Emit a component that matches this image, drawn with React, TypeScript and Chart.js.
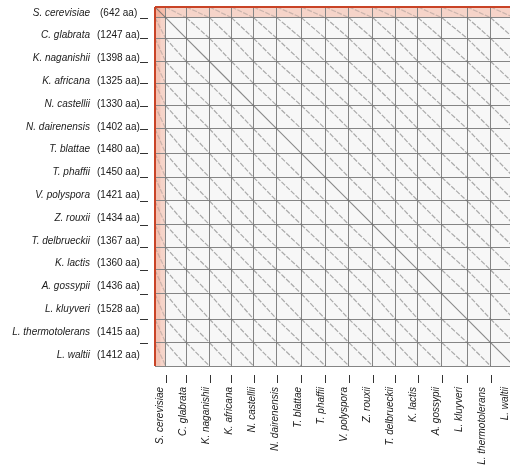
import React, { useEffect, useRef } from "react";
import { Chart, registerables } from "chart.js";

Chart.register(...registerables);

// ---- data ----
const species: string[] = [
  "S. cerevisiae",
  "C. glabrata",
  "K. naganishii",
  "K. africana",
  "N. castellii",
  "N. dairenensis",
  "T. blattae",
  "T. phaffii",
  "V. polyspora",
  "Z. rouxii",
  "T. delbrueckii",
  "K. lactis",
  "A. gossypii",
  "L. kluyveri",
  "L. thermotolerans",
  "L. waltii",
];
const lengthsAa: number[] = [
  642, 1247, 1398, 1325, 1330, 1402, 1480, 1450, 1421, 1434, 1367, 1360, 1436, 1528, 1415, 1412,
];
const highlighted: number[] = [0];

// cumulative offsets (cell boundaries) built from the lengths
const offsets: number[] = [0];
lengthsAa.forEach((l) => offsets.push(offsets[offsets.length - 1] + l));
const total = offsets[offsets.length - 1];

const FONT = '"Liberation Sans", Arial, Helvetica, sans-serif';

function buildDatasets() {
  const ds: any[] = [];
  for (let i = 0; i < lengthsAa.length; i++) {
    for (let j = 0; j < lengthsAa.length; j++) {
      const self = i === j;
      const inBand = i === 0 || j === 0;
      ds.push({
        type: "scatter",
        showLine: true,
        data: [
          { x: offsets[j], y: offsets[i] },
          { x: offsets[j + 1], y: offsets[i + 1] },
        ],
        borderColor: self
          ? "rgba(100,100,100,0.75)"
          : inBand
          ? "rgba(120,120,120,0.35)"
          : "rgba(105,105,105,0.55)",
        borderWidth: self ? 1.1 : 1.2,
        borderDash: self ? [] : [5, 1.5],
        pointRadius: 0,
        pointHoverRadius: 0,
      });
    }
  }
  return ds;
}

const decoPlugin = {
  id: "deco",
  beforeDraw(chart: any) {
    const { ctx, chartArea: a, scales } = chart;
    const xs = scales.x;
    const ys = scales.y;
    ctx.save();
    ctx.fillStyle = "#f7f7f7";
    ctx.fillRect(a.left, a.top, a.right - a.left, a.bottom - a.top);
    highlighted.forEach((h) => {
      const x0 = xs.getPixelForValue(offsets[h]);
      const x1 = xs.getPixelForValue(offsets[h + 1]);
      const y0 = ys.getPixelForValue(offsets[h]);
      const y1 = ys.getPixelForValue(offsets[h + 1]);
      ctx.fillStyle = "rgba(243,150,120,0.36)";
      ctx.fillRect(a.left, y0, a.right - a.left, y1 - y0);
      ctx.fillRect(x0, a.top, x1 - x0, a.bottom - a.top);
      ctx.fillStyle = "rgba(236,130,100,0.2)";
      ctx.fillRect(x0, a.top, (x1 - x0) * 0.5, a.bottom - a.top);
    });
    ctx.restore();
  },
  afterDraw(chart: any) {
    const { ctx, chartArea: a, scales } = chart;
    const xs = scales.x;
    const ys = scales.y;
    ctx.save();
    // red borders of highlighted row / column
    ctx.strokeStyle = "#c94326";
    ctx.lineWidth = 2;
    ctx.beginPath();
    ctx.moveTo(a.left, a.top);
    ctx.lineTo(a.right, a.top);
    ctx.moveTo(a.left, a.top);
    ctx.lineTo(a.left, a.bottom);
    ctx.stroke();

    // left labels
    ctx.fillStyle = "#1a1a1a";
    ctx.textBaseline = "middle";
    species.forEach((name, i) => {
      const y = 12.8 + 22.8 * i;
      ctx.font = `italic 10px ${FONT}`;
      ctx.textAlign = "right";
      ctx.fillText(name, 90, y);
      ctx.font = `10px ${FONT}`;
      ctx.textAlign = "left";
      const len = lengthsAa[i];
      ctx.fillText(`(${len} aa)`, len < 1000 ? 100 : 97, y);
    });

    // left marks at row boundaries
    ctx.strokeStyle = "#333";
    ctx.lineWidth = 1;
    ctx.beginPath();
    for (let i = 1; i < offsets.length - 1; i++) {
      const py = Math.round(ys.getPixelForValue(offsets[i])) + 0.5;
      ctx.moveTo(140, py);
      ctx.lineTo(148, py);
    }
    // bottom marks at column boundaries
    for (let i = 1; i < offsets.length - 1; i++) {
      const px = Math.round(xs.getPixelForValue(offsets[i])) + 0.5;
      ctx.moveTo(px, a.bottom + 9);
      ctx.lineTo(px, a.bottom + 17);
    }
    ctx.stroke();

    // bottom rotated labels
    ctx.font = `italic 10px ${FONT}`;
    ctx.textAlign = "right";
    ctx.textBaseline = "middle";
    species.forEach((name, i) => {
      ctx.save();
      ctx.translate(160 + 23 * i, a.bottom + 21);
      ctx.rotate(-Math.PI / 2);
      ctx.fillText(name, 0, 0);
      ctx.restore();
    });
    ctx.restore();
  },
};

export default function App() {
  const ref = useRef<HTMLCanvasElement | null>(null);
  useEffect(() => {
    if (!ref.current) return;
    const gridOpts = {
      color: "#858585",
      lineWidth: 1,
      drawTicks: false,
      drawOnChartArea: true,
    };
    const chart = new Chart(ref.current, {
      type: "scatter",
      data: { datasets: buildDatasets() },
      options: {
        responsive: false,
        animation: false,
        events: [],
        layout: { padding: { left: 155, top: 7, right: 6, bottom: 100 } },
        plugins: { legend: { display: false }, tooltip: { enabled: false } },
        scales: {
          x: {
            type: "linear",
            min: 0,
            max: total,
            ticks: { display: false },
            grid: gridOpts,
            border: { display: false },
            afterBuildTicks: (s: any) => {
              s.ticks = offsets.map((v) => ({ value: v }));
            },
            afterFit: (s: any) => {
              s.height = 0;
            },
          },
          y: {
            type: "linear",
            reverse: true,
            min: 0,
            max: total,
            ticks: { display: false },
            grid: gridOpts,
            border: { display: false },
            afterBuildTicks: (s: any) => {
              s.ticks = offsets.map((v) => ({ value: v }));
            },
            afterFit: (s: any) => {
              s.width = 0;
            },
          },
        },
      } as any,
      plugins: [decoPlugin],
    });
    return () => chart.destroy();
  }, []);
  return (
    <div
      style={{
        position: "fixed",
        left: 0,
        top: 0,
        width: 510,
        height: 466,
        overflow: "hidden",
        background: "#fff",
      }}
    >
      <canvas ref={ref} width={520} height={466} style={{ display: "block" }} />
    </div>
  );
}
